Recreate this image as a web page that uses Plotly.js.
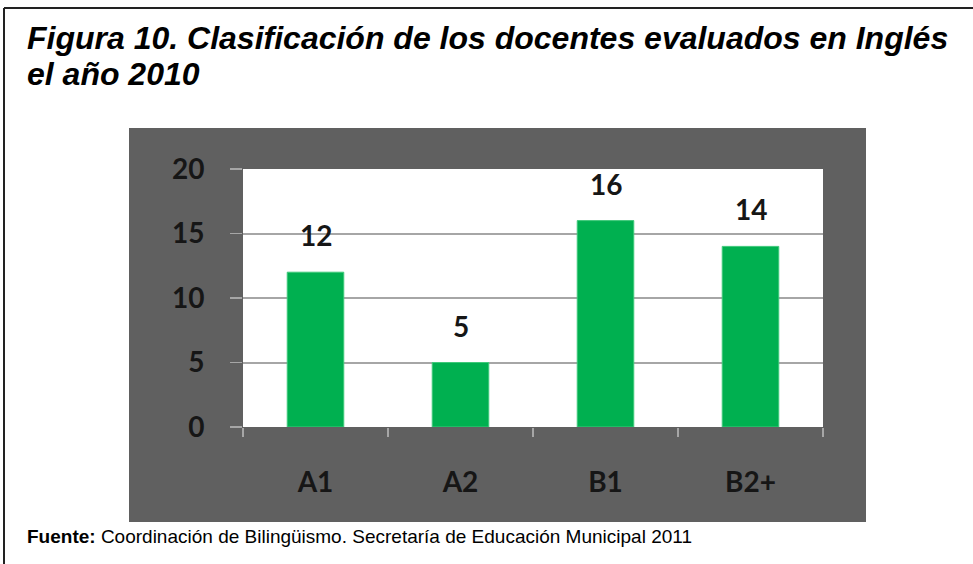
<!DOCTYPE html>
<html>
<head>
<meta charset="utf-8">
<script src="https://cdn.plot.ly/plotly-3.0.1.min.js"></script>
<style>html,body{margin:0;padding:0;background:#fff;}#chart{width:973px;height:564px;}</style>
</head>
<body>
<div id="chart"></div>
<script>
const categories = ['A1', 'A2', 'B1', 'B2+'];
const values = [12, 5, 16, 14];
const yTickValues = [0, 5, 10, 15, 20];
const titleLines = ['Figura 10. Clasificación de los docentes evaluados en Inglés', 'el año 2010'];
const sourceText = '<b>Fuente:</b> Coordinación de Bilingüismo. Secretaría de Educación Municipal 2011';

const W = 973, H = 564;
const L = 243, R = 150, T = 169, B = 137;
const PW = W - L - R, PH = H - T - B;
const px = v => (v - L) / PW;
const py = v => (H - B - v) / PH;

const tickFont = {family: 'Lato, "Open Sans", sans-serif', size: 28, color: '#161616', weight: 'bold'};

const trace = {
  type: 'bar',
  x: categories,
  y: values,
  marker: {color: '#00B050', line: {color: '#3fc97a', width: 1}},
  hoverinfo: 'skip'
};

const valueLabels = categories.map((c, i) => ({
  x: c, y: values[i], xref: 'x', yref: 'y',
  text: String(values[i]), showarrow: false,
  yanchor: 'middle', yshift: 37,
  font: tickFont
}));

const titleAnnotations = titleLines.map((t, i) => ({
  xref: 'paper', yref: 'paper', x: px(25), y: py(38 + i * 36), xanchor: 'left', yanchor: 'middle',
  text: '<b><i>' + t + '</i></b>', showarrow: false, align: 'left',
  font: {family: '"Liberation Sans", Arial, sans-serif', size: 32, color: '#000000'}
}));

const layout = {
  width: W, height: H,
  margin: {l: L, r: R, t: T, b: B, pad: 0},
  paper_bgcolor: '#ffffff',
  plot_bgcolor: 'rgba(0,0,0,0)',
  showlegend: false,
  bargap: 0.61,
  xaxis: {
    type: 'category',
    showgrid: false, zeroline: false, showline: false,
    ticks: 'outside', tickson: 'boundaries', ticklen: 9, tickwidth: 1.5, tickcolor: '#a6a6a6',
    ticklabelstandoff: 36,
    tickfont: tickFont,
    fixedrange: true
  },
  yaxis: {
    range: [0, 20], tickvals: yTickValues,
    showgrid: true, gridcolor: '#a6a6a6', gridwidth: 2,
    zeroline: false, showline: false,
    ticks: 'outside', ticklen: 12, tickwidth: 1.5, tickcolor: '#a6a6a6',
    ticklabelstandoff: 20,
    tickfont: tickFont,
    fixedrange: true
  },
  shapes: [
    {type: 'rect', xref: 'paper', yref: 'paper', layer: 'below',
     x0: px(129), x1: px(866), y0: py(522), y1: py(128),
     fillcolor: '#606060', line: {width: 0}},
    {type: 'rect', xref: 'paper', yref: 'paper', layer: 'below',
     x0: 0, x1: 1, y0: 0, y1: 1,
     fillcolor: '#ffffff', line: {width: 0}},
    {type: 'line', xref: 'paper', yref: 'paper',
     x0: px(4), x1: px(975), y0: py(8), y1: py(8),
     line: {color: '#222222', width: 2}},
    {type: 'line', xref: 'paper', yref: 'paper',
     x0: px(4), x1: px(4), y0: py(8), y1: py(566),
     line: {color: '#222222', width: 2}}
  ],
  annotations: valueLabels.concat(titleAnnotations, [
    {xref: 'paper', yref: 'paper', x: px(25), y: py(536), xanchor: 'left', yanchor: 'middle',
     text: sourceText, showarrow: false, align: 'left',
     font: {family: '"Liberation Sans", Arial, sans-serif', size: 19, color: '#000000'}}
  ])
};

Plotly.newPlot('chart', [trace], layout, {displayModeBar: false, staticPlot: true});
</script>
</body>
</html>
